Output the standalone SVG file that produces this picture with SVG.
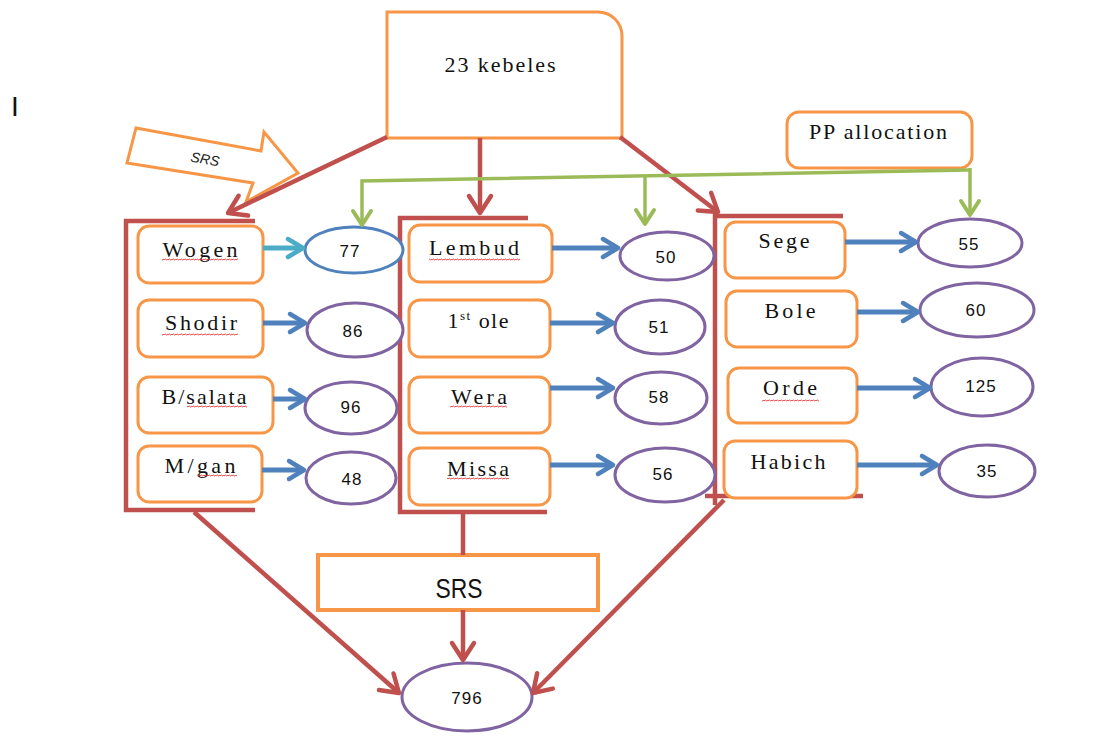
<svg xmlns="http://www.w3.org/2000/svg" width="1097" height="736" viewBox="0 0 1097 736">
<style>
.box{fill:#fff;stroke:#F79646;stroke-width:3}
.ell{fill:#fff;stroke:#8064A2;stroke-width:3}
.lbl{font-family:"Liberation Serif",serif;font-size:22px;fill:#111;text-anchor:middle}
.num{font-family:"Liberation Sans",sans-serif;font-size:17px;fill:#111;text-anchor:middle;letter-spacing:1px}
.red{fill:none;stroke:#C0504D;stroke-width:4.5}
.blue{fill:none;stroke:#4F81BD;stroke-width:5}
.green{fill:none;stroke:#9BBB59;stroke-width:3.5}
.wv{fill:url(#wave)}
</style>
<defs>
<marker id="mr" markerUnits="userSpaceOnUse" markerWidth="40" markerHeight="40" viewBox="-20 -20 40 40" refX="0" refY="0" orient="auto" overflow="visible">
<path d="M-17,-11 L0,0 L-17,11" fill="none" stroke="#C0504D" stroke-width="4.5" stroke-linecap="round" stroke-linejoin="round"/>
</marker>
<marker id="mb" markerUnits="userSpaceOnUse" markerWidth="40" markerHeight="40" viewBox="-20 -20 40 40" refX="0" refY="0" orient="auto" overflow="visible">
<path d="M-15,-9 L0,0 L-15,9" fill="none" stroke="#4F81BD" stroke-width="4.5" stroke-linecap="round" stroke-linejoin="round"/>
</marker>
<marker id="mlb" markerUnits="userSpaceOnUse" markerWidth="40" markerHeight="40" viewBox="-20 -20 40 40" refX="0" refY="0" orient="auto" overflow="visible">
<path d="M-15,-9 L0,0 L-15,9" fill="none" stroke="#4BACC6" stroke-width="4.5" stroke-linecap="round" stroke-linejoin="round"/>
</marker>
<marker id="mg" markerUnits="userSpaceOnUse" markerWidth="40" markerHeight="40" viewBox="-20 -20 40 40" refX="0" refY="0" orient="auto" overflow="visible">
<path d="M-14,-9 L0,0 L-14,9" fill="none" stroke="#9BBB59" stroke-width="4" stroke-linecap="round" stroke-linejoin="round"/>
</marker>
<pattern id="wave" width="4" height="3" patternUnits="userSpaceOnUse">
<path d="M0,2.2 L1,0.8 L3,2.2 L4,0.8" fill="none" stroke="#E03030" stroke-width="0.8"/>
</pattern>
</defs>
<rect width="1097" height="736" fill="#fff"/>

<text x="11" y="116" font-family="Liberation Sans, sans-serif" font-size="28" fill="#111">I</text>

<g id="srs-arrow">
<polygon points="136,128 261,151 264,132 298,173 246,202 253,183 127,163" fill="#fff" stroke="#F79646" stroke-width="3" stroke-linejoin="miter"/>
<text x="205" y="164" transform="rotate(10 205 160)" font-family="Liberation Sans, sans-serif" font-size="14" font-style="italic" fill="#222" text-anchor="middle">SRS</text>
</g>

<g id="kebeles">
<path class="box" d="M387,12 H598 A24,24 0 0 1 622,36 V138 H387 Z"/>
<text class="lbl" x="500" y="72" textLength="111" lengthAdjust="spacing">23 kebeles</text>
</g>

<g id="pp-allocation">
<rect class="box" x="787" y="112" width="185" height="56" rx="12"/>
<text class="lbl" x="878" y="139" textLength="138" lengthAdjust="spacing">PP allocation</text>
</g>

<g id="brackets">
<path class="red" d="M255,221 H126 V510 H255"/>
<path class="red" d="M528,218 H400 V512 H547"/>
<path class="red" d="M843,216 H715 V505"/>
<path class="red" d="M705,496 H863"/>
</g>

<g id="wogen"><rect class="box" x="138" y="226" width="125" height="57" rx="11"/><text class="lbl" x="200" y="257" textLength="75" lengthAdjust="spacing">Wogen</text><rect class="wv" x="162" y="258" width="76" height="3"/></g>
<g id="shodir"><rect class="box" x="138" y="300" width="125" height="57" rx="11"/><text class="lbl" x="201" y="330" textLength="72" lengthAdjust="spacing">Shodir</text><rect class="wv" x="162" y="333" width="76" height="3"/></g>
<g id="bsalata"><rect class="box" x="138" y="377" width="135" height="56" rx="11"/><text class="lbl" x="204" y="404" textLength="85" lengthAdjust="spacing">B/salata</text><rect class="wv" x="187" y="405" width="60" height="3"/></g>
<g id="mgan"><rect class="box" x="138" y="446" width="124" height="56" rx="11"/><text class="lbl" x="200" y="473" textLength="71" lengthAdjust="spacing">M/gan</text><rect class="wv" x="197" y="474" width="40" height="3"/></g>

<g id="lembud"><rect class="box" x="409" y="225" width="143" height="57" rx="11"/><text class="lbl" x="474" y="255" textLength="90" lengthAdjust="spacing">Lembud</text><rect class="wv" x="429" y="258" width="91" height="3"/></g>
<g id="first-ole"><rect class="box" x="409" y="300" width="141" height="57" rx="11"/><text class="lbl" x="478" y="328" textLength="61" lengthAdjust="spacing">1<tspan font-size="13" baseline-shift="8">st</tspan> ole</text></g>
<g id="wera"><rect class="box" x="409" y="377" width="141" height="56" rx="11"/><text class="lbl" x="479" y="404" textLength="56" lengthAdjust="spacing">Wera</text><rect class="wv" x="450" y="405" width="57" height="3"/></g>
<g id="missa"><rect class="box" x="409" y="448" width="141" height="57" rx="11"/><text class="lbl" x="478" y="476" textLength="62" lengthAdjust="spacing">Missa</text><rect class="wv" x="447" y="477" width="62" height="3"/></g>

<g id="sege"><rect class="box" x="725" y="222" width="120" height="56" rx="11"/><text class="lbl" x="784" y="248" textLength="51" lengthAdjust="spacing">Sege</text></g>
<g id="bole"><rect class="box" x="726" y="291" width="131" height="56" rx="11"/><text class="lbl" x="790" y="318" textLength="51" lengthAdjust="spacing">Bole</text></g>
<g id="orde"><rect class="box" x="728" y="368" width="129" height="55" rx="11"/><text class="lbl" x="790" y="395" textLength="54" lengthAdjust="spacing">Orde</text><rect class="wv" x="762" y="399" width="57" height="3"/></g>
<g id="habich"><rect class="box" x="724" y="441" width="133" height="57" rx="11"/><text class="lbl" x="788" y="469" textLength="75" lengthAdjust="spacing">Habich</text></g>

<g id="n77"><ellipse cx="354" cy="250" rx="49" ry="23" fill="#fff" stroke="#4F81BD" stroke-width="3"/><text class="num" x="350" y="257">77</text></g>
<g id="n86"><ellipse class="ell" cx="355" cy="330" rx="48" ry="27"/><text class="num" x="353" y="337">86</text></g>
<g id="n96"><ellipse class="ell" cx="351" cy="408" rx="46" ry="26"/><text class="num" x="351" y="413">96</text></g>
<g id="n48"><ellipse class="ell" cx="351" cy="478" rx="45" ry="26"/><text class="num" x="352" y="485">48</text></g>

<g id="n50"><ellipse class="ell" cx="667" cy="256" rx="47" ry="24"/><text class="num" x="666" y="263">50</text></g>
<g id="n51"><ellipse class="ell" cx="660" cy="327" rx="45" ry="27"/><text class="num" x="659" y="333">51</text></g>
<g id="n58"><ellipse class="ell" cx="661" cy="398" rx="46" ry="26"/><text class="num" x="659" y="403">58</text></g>
<g id="n56"><ellipse class="ell" cx="665" cy="475" rx="50" ry="27"/><text class="num" x="663" y="480">56</text></g>

<g id="n55"><ellipse class="ell" cx="970" cy="243" rx="52" ry="24"/><text class="num" x="969" y="250">55</text></g>
<g id="n60"><ellipse class="ell" cx="977" cy="310" rx="57" ry="27"/><text class="num" x="976" y="316">60</text></g>
<g id="n125"><ellipse class="ell" cx="982" cy="387" rx="51" ry="29"/><text class="num" x="981" y="392">125</text></g>
<g id="n35"><ellipse class="ell" cx="987" cy="471" rx="48" ry="26"/><text class="num" x="987" y="477">35</text></g>

<g id="srs-box">
<rect x="318" y="555" width="280" height="55" fill="#fff" stroke="#F79646" stroke-width="4"/>
<text x="459" y="598" font-family="Liberation Sans, sans-serif" font-size="27" fill="#111" text-anchor="middle" textLength="47" lengthAdjust="spacingAndGlyphs">SRS</text>
</g>

<g id="n796"><ellipse class="ell" cx="467" cy="697" rx="65" ry="34"/><text class="num" x="467" y="704">796</text></g>

<g id="connectors">
<line class="red" x1="387" y1="137" x2="228" y2="213" marker-end="url(#mr)"/>
<line class="red" x1="480" y1="138" x2="480" y2="213" marker-end="url(#mr)"/>
<line class="red" x1="620" y1="137" x2="718" y2="212" marker-end="url(#mr)"/>
<line class="red" x1="194" y1="512" x2="399" y2="693" marker-end="url(#mr)"/>
<line class="red" x1="463" y1="512" x2="463" y2="555"/>
<line class="red" x1="463" y1="610" x2="463" y2="660" marker-end="url(#mr)"/>
<line class="red" x1="724" y1="500" x2="533" y2="693" marker-end="url(#mr)"/>

<line x1="263" y1="248" x2="303" y2="248" stroke="#4BACC6" stroke-width="5" marker-end="url(#mlb)"/>
<line class="blue" x1="263" y1="323" x2="305" y2="323" marker-end="url(#mb)"/>
<line class="blue" x1="273" y1="399" x2="305" y2="399" marker-end="url(#mb)"/>
<line class="blue" x1="262" y1="470" x2="304" y2="470" marker-end="url(#mb)"/>
<line class="blue" x1="552" y1="248" x2="618" y2="248" marker-end="url(#mb)"/>
<line class="blue" x1="550" y1="323" x2="613" y2="323" marker-end="url(#mb)"/>
<line class="blue" x1="550" y1="388" x2="613" y2="388" marker-end="url(#mb)"/>
<line class="blue" x1="550" y1="465" x2="613" y2="465" marker-end="url(#mb)"/>
<line class="blue" x1="845" y1="242" x2="916" y2="242" marker-end="url(#mb)"/>
<line class="blue" x1="857" y1="312" x2="918" y2="312" marker-end="url(#mb)"/>
<line class="blue" x1="857" y1="388" x2="930" y2="388" marker-end="url(#mb)"/>
<line class="blue" x1="857" y1="465" x2="937" y2="465" marker-end="url(#mb)"/>

<polyline class="green" points="969,170 362,181 362,225" marker-end="url(#mg)"/>
<line class="green" x1="645" y1="176" x2="645" y2="224" marker-end="url(#mg)"/>
<line class="green" x1="970" y1="168" x2="970" y2="215" marker-end="url(#mg)"/>
</g>
</svg>
